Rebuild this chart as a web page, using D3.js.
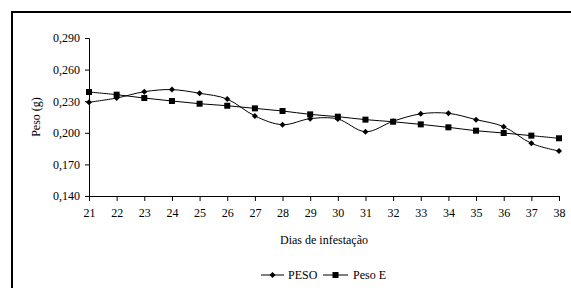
<!DOCTYPE html>
<html><head><meta charset="utf-8">
<script src="https://cdn.jsdelivr.net/npm/d3@7"></script>
<style>body{margin:0;background:#fff}svg{display:block}svg text{font-family:"Liberation Serif","Times New Roman","DejaVu Serif",serif !important;}</style>
</head><body><svg id="c" width="571" height="288"></svg>
<script>
const days = [21,22,23,24,25,26,27,28,29,30,31,32,33,34,35,36,37,38];
const peso = [0.229,0.233,0.239,0.241,0.2375,0.232,0.216,0.2077,0.2134,0.2131,0.201,0.211,0.218,0.2185,0.2125,0.2058,0.190,0.1827];
const pesoE = [0.2387,0.2362,0.233,0.2302,0.2276,0.2257,0.2232,0.2207,0.2175,0.2153,0.2125,0.2105,0.208,0.2052,0.202,0.1998,0.1973,0.1948];
const yTicks = [0.140,0.170,0.200,0.230,0.260,0.290];
const seriesNames = ["PESO","Peso E"];

const svg = d3.select("#c");
// frame
svg.append("rect").attr("x",12).attr("y",12).attr("width",600).attr("height",300)
  .attr("fill","none").attr("stroke","#000").attr("stroke-width",2);

const x = d3.scaleLinear().domain([21,38]).range([89,559]);
const y = d3.scaleLinear().domain([0.140,0.290]).range([196,38]);
const fmt = d => d3.format(".3f")(d).replace(".",",");

const ya = svg.append("g").attr("transform","translate(89,0)")
  .call(d3.axisLeft(y).tickValues(yTicks).tickFormat(fmt).tickSize(4).tickPadding(5));
const xa = svg.append("g").attr("transform","translate(0,196)")
  .call(d3.axisBottom(x).tickValues(days).tickFormat(d3.format("d")).tickSize(5).tickPadding(7));
[ya,xa].forEach(a=>{
  a.attr("font-family",null).attr("font-size",null);
  a.select(".domain").attr("stroke","#000");
  a.selectAll(".tick line").attr("stroke","#000");
  a.selectAll("text").style("font-size","12px").attr("fill","#000");
});

svg.append("text").attr("transform","translate(40,117) rotate(-90)")
  .attr("text-anchor","middle").style("font-size","12px").text("Peso (g)");
svg.append("text").attr("x",324).attr("y",244).attr("text-anchor","middle")
  .style("font-size","12px").text("Dias de infestação");

const line = d3.line().x((d,i)=>x(days[i])).y(d=>y(d)).curve(d3.curveCatmullRom.alpha(0));
svg.append("path").datum(peso).attr("d",line).attr("fill","none").attr("stroke","#000").attr("stroke-width",1);
svg.append("path").datum(pesoE).attr("d",line).attr("fill","none").attr("stroke","#000").attr("stroke-width",1);

const diamond = (g,cx,cy)=>g.append("path").attr("d",`M${cx},${cy-3}L${cx+3},${cy}L${cx},${cy+3}L${cx-3},${cy}Z`).attr("fill","#000");
const square = (g,cx,cy)=>g.append("rect").attr("x",cx-3).attr("y",cy-3).attr("width",6).attr("height",6).attr("fill","#000");
const mk = svg.append("g");
peso.forEach((v,i)=>diamond(mk,x(days[i]),y(v)));
pesoE.forEach((v,i)=>square(mk,x(days[i]),y(v)));

// legend
const lg = svg.append("g");
lg.append("line").attr("x1",261).attr("x2",284).attr("y1",275).attr("y2",275).attr("stroke","#000");
diamond(lg,272.5,275);
lg.append("text").attr("x",288).attr("y",279).style("font-size","12px").text(seriesNames[0]);
lg.append("line").attr("x1",323).attr("x2",348).attr("y1",275).attr("y2",275).attr("stroke","#000");
square(lg,335.5,275);
lg.append("text").attr("x",353).attr("y",279).style("font-size","12px").text(seriesNames[1]);
</script></body></html>
